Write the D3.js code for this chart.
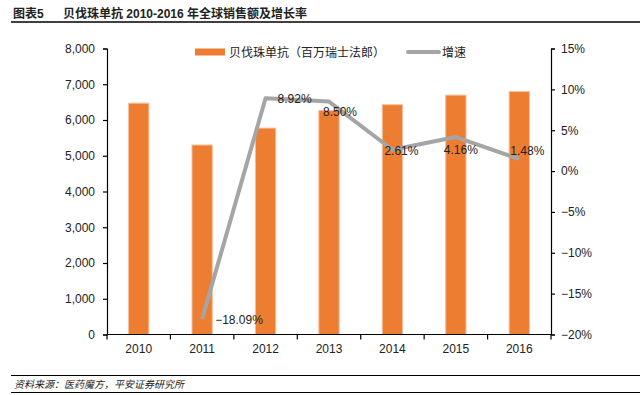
<!DOCTYPE html>
<html><head><meta charset="utf-8">
<script src="https://cdn.jsdelivr.net/npm/d3@7"></script>
<style>
body{margin:0;background:#fff;}
text{font-family:"Liberation Sans","Noto Sans CJK SC",sans-serif;fill:#222;}
</style></head>
<body><svg id="c" width="640" height="395"></svg>
<script>
const years = ["2010","2011","2012","2013","2014","2015","2016"];
const sales = [6470, 5300, 5773, 6264, 6427, 6695, 6794];
const growth = [null, -0.1809, 0.0892, 0.0850, 0.0261, 0.0416, 0.0148];
const growthLabels = ["", "−18.09%", "8.92%", "8.50%", "2.61%", "4.16%", "1.48%"];
const leftTicks = [0,1000,2000,3000,4000,5000,6000,7000,8000];
const rightTicks = [-0.20,-0.15,-0.10,-0.05,0,0.05,0.10,0.15];
const seriesNames = ["贝伐珠单抗（百万瑞士法郎）", "增速"];
const titleText = ["图表5", "贝伐珠单抗 2010-2016 年全球销售额及增长率"];
const sourceText = "资料来源：医药魔方，平安证券研究所";

// label placement (layout, px offsets from point)
const labelOffsets = [null,[13,1],[12,1],[-6,10],[-8,1],[-12,13],[-9,-8]];

const svg = d3.select("#c");
const L = 107, R = 551, T = 48.5, B = 334.5;

const x = d3.scaleBand().domain(years).range([L, R]).padding(0);
const yL = d3.scaleLinear().domain([0, 8000]).range([B, T]);
const yR = d3.scaleLinear().domain([-0.20, 0.15]).range([B, T]);

// header
svg.append("text").attr("x", 13).attr("y", 18).attr("font-size", 12).attr("font-weight", "bold").text(titleText[0]);
svg.append("text").attr("x", 63).attr("y", 18).attr("font-size", 12).attr("font-weight", "bold").text(titleText[1]);
svg.append("line").attr("x1", 11).attr("x2", 640).attr("y1", 22).attr("y2", 22).attr("stroke", "#000").attr("stroke-width", 1.5);

// bars
const bw = x.bandwidth() * 0.32;
svg.append("g").selectAll("rect").data(years).join("rect")
  .attr("x", d => x(d) + x.bandwidth()/2 - bw/2)
  .attr("width", bw)
  .attr("y", (d,i) => yL(sales[i]))
  .attr("height", (d,i) => B - yL(sales[i]))
  .attr("fill", "#ED7D31")
  .attr("stroke", "#F6BE98").attr("stroke-width", 1);

// axes
const axL = d3.axisLeft(yL).tickValues(leftTicks).tickFormat(d3.format(",")).tickSize(4).tickPadding(8);
const gL = svg.append("g").attr("transform", `translate(${L},0)`).call(axL);
const axR = d3.axisRight(yR).tickValues(rightTicks).tickFormat(d3.format(".0%")).tickSize(4).tickPadding(6);
const gR = svg.append("g").attr("transform", `translate(${R},0)`).call(axR);
const axB = d3.axisBottom(x).tickSize(0).tickPadding(10);
const gB = svg.append("g").attr("transform", `translate(0,${B})`).call(axB);
[gL, gR, gB].forEach(g => {
  g.select(".domain").attr("stroke", "#000").attr("stroke-width", 1.2);
  g.selectAll(".tick line").attr("stroke", "#000").attr("stroke-width", 1.2);
  g.selectAll("text").attr("font-size", 12).attr("fill", "#333")
    .attr("font-family", '"Liberation Sans", sans-serif');
});
gB.select(".domain").attr("d", `M${L},0H${R}`);
// x-axis boundary ticks
svg.append("g").selectAll("line").data(years.concat(["end"])).join("line")
  .attr("x1", (d,i) => L + i * x.bandwidth()).attr("x2", (d,i) => L + i * x.bandwidth())
  .attr("y1", B).attr("y2", B + 5).attr("stroke", "#000").attr("stroke-width", 1.2);

// growth line
const pts = years.map((d,i) => ({d, i, v: growth[i]})).filter(p => p.v !== null);
const line = d3.line().x(p => x(p.d) + x.bandwidth()/2).y(p => yR(p.v));
svg.append("path").datum(pts).attr("d", line)
  .attr("fill", "none").attr("stroke", "#A5A5A5").attr("stroke-width", 4)
  .attr("stroke-linejoin", "round").attr("stroke-linecap", "butt");

svg.append("g").selectAll("text").data(pts).join("text")
  .attr("x", p => x(p.d) + x.bandwidth()/2 + labelOffsets[p.i][0])
  .attr("y", p => yR(p.v) + labelOffsets[p.i][1])
  .attr("dy", "0.35em").attr("font-size", 12)
  .text(p => growthLabels[p.i]);

// legend
svg.append("rect").attr("x", 195).attr("y", 48.5).attr("width", 30).attr("height", 7).attr("fill", "#ED7D31");
svg.append("text").attr("x", 229).attr("y", 56.5).attr("font-size", 12).text(seriesNames[0]);
svg.append("line").attr("x1", 408).attr("x2", 439).attr("y1", 52).attr("y2", 52)
  .attr("stroke", "#A5A5A5").attr("stroke-width", 4).attr("stroke-linecap", "round");
svg.append("text").attr("x", 442).attr("y", 56.5).attr("font-size", 12).text(seriesNames[1]);

// footer
svg.append("line").attr("x1", 11).attr("x2", 640).attr("y1", 375.5).attr("y2", 375.5).attr("stroke", "#000").attr("stroke-width", 1.2);
svg.append("text").attr("x", 14).attr("y", 388).attr("font-size", 10).attr("font-style", "italic").text(sourceText);
svg.append("line").attr("x1", 11).attr("x2", 640).attr("y1", 392.5).attr("y2", 392.5).attr("stroke", "#000").attr("stroke-width", 1.2);
</script></body></html>
